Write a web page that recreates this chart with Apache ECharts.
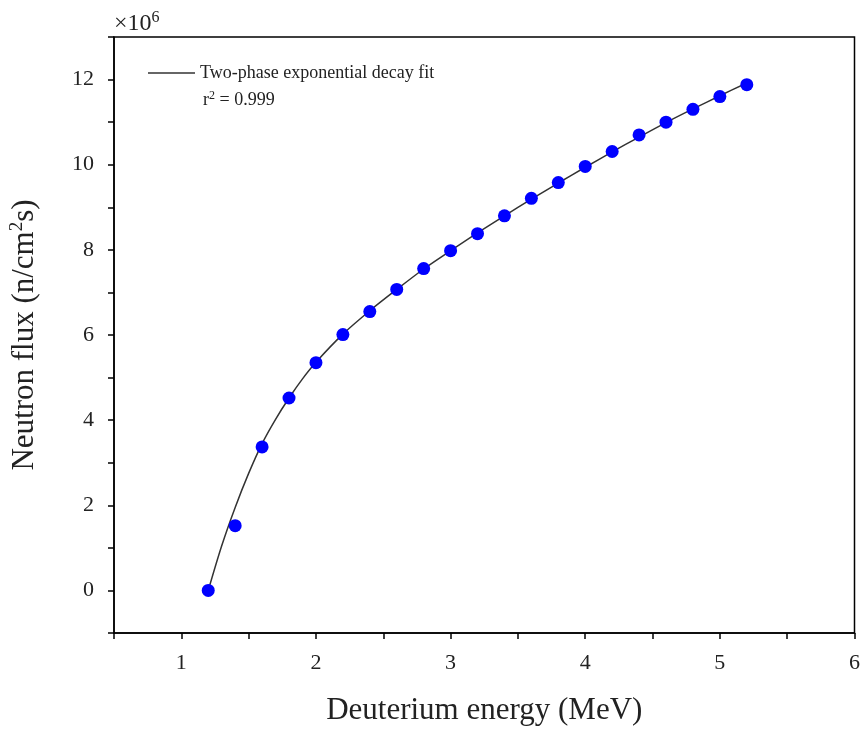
<!DOCTYPE html>
<html><head><meta charset="utf-8">
<script src="https://cdn.jsdelivr.net/npm/echarts@6/dist/echarts.min.js"></script>
<style>html,body{margin:0;padding:0;background:#fff}#c{width:863px;height:731px}</style>
</head><body><div id="c"></div>
<script>
const energy = [1.2,1.4,1.6,1.8,2.0,2.2,2.4,2.6,2.8,3.0,3.2,3.4,3.6,3.8,4.0,4.2,4.4,4.6,4.8,5.0,5.2];
const flux = [0,1.52,3.37,4.52,5.35,6.01,6.55,7.07,7.56,7.98,8.38,8.80,9.21,9.58,9.96,10.31,10.70,11.0,11.3,11.6,11.88];
const fitX = [1.2,1.3,1.4,1.5,1.6,1.7,1.8,1.9,2.0,2.2,2.4,2.6,2.8,3.0,3.2,3.4,3.6,3.8,4.0,4.2,4.4,4.6,4.8,5.0,5.2];
const fitY = [0,1.05,1.95,2.75,3.45,4.02,4.52,4.97,5.36,6.02,6.57,7.07,7.55,7.98,8.40,8.80,9.19,9.57,9.94,10.30,10.65,10.99,11.31,11.62,11.92];
const xTicks = [1,2,3,4,5,6];
const yTicks = [0,2,4,6,8,10,12];
const fitName = 'Two-phase exponential decay fit';
const font = 'Liberation Serif';
const pts = energy.map((x,i)=>[x,flux[i]]);
const fitPts = fitX.map((x,i)=>[x,fitY[i]]);
const chart = echarts.init(document.getElementById('c'));
chart.setOption({
  animation:false,
  grid:{left:113,top:37,right:7,bottom:95,show:true,borderColor:'#000',borderWidth:1.5},
  legend:{data:[{name:fitName,icon:'rect',itemStyle:{color:'#333'}}],left:143,top:59,itemWidth:47,itemHeight:1.5,itemGap:4,
    textStyle:{fontFamily:font,fontSize:18,color:'#222'}},
  xAxis:{type:'value',min:0.5,max:6,interval:0.5,
    axisLine:{onZero:false,lineStyle:{color:'#000',width:1.5}},
    axisTick:{show:true,length:6,lineStyle:{color:'#000',width:1.5}},
    splitLine:{show:false},
    axisLabel:{margin:19,fontFamily:font,fontSize:22,color:'#222',
      formatter:v=>xTicks.includes(v)?String(v):''},
    name:'Deuterium energy (MeV)',nameLocation:'middle',nameGap:62,
    nameTextStyle:{fontFamily:font,fontSize:31,color:'#222'}},
  yAxis:{type:'value',min:-1,max:13,interval:1,
    axisLine:{onZero:false,lineStyle:{color:'#000',width:1.5}},
    axisTick:{show:true,length:6,lineStyle:{color:'#000',width:1.5}},
    splitLine:{show:false},
    axisLabel:{margin:20,fontFamily:font,fontSize:22,color:'#222',
      formatter:v=>yTicks.includes(v)?String(v):''},
    name:'Neutron flux (n/cm{s|2}s)',nameLocation:'middle',nameGap:73,
    nameTextStyle:{fontFamily:font,fontSize:31,color:'#222',
      rich:{s:{fontFamily:font,fontSize:19,color:'#222',verticalAlign:'top',padding:[0,0,14,0]}}}},
  series:[
    {name:fitName,type:'line',data:fitPts,smooth:0.3,symbol:'none',
      lineStyle:{color:'#333',width:1.5},z:2},
    {name:'data',type:'scatter',data:pts,symbolSize:13,
      itemStyle:{color:'#0000ff',opacity:1},z:3}
  ],
  graphic:[
    {type:'text',left:114,top:10,style:{text:'×10{s|6}',fontFamily:font,fontSize:24,fill:'#222',
      rich:{s:{fontFamily:font,fontSize:16,fill:'#222',verticalAlign:'top',padding:[0,0,11,0]}}}},
    {type:'text',left:203,top:90,style:{text:'r{s|2} = 0.999',fontFamily:font,fontSize:18,fill:'#222',
      rich:{s:{fontFamily:font,fontSize:12,fill:'#222',verticalAlign:'top',padding:[0,0,8,0]}}}}
  ]
});
</script></body></html>
